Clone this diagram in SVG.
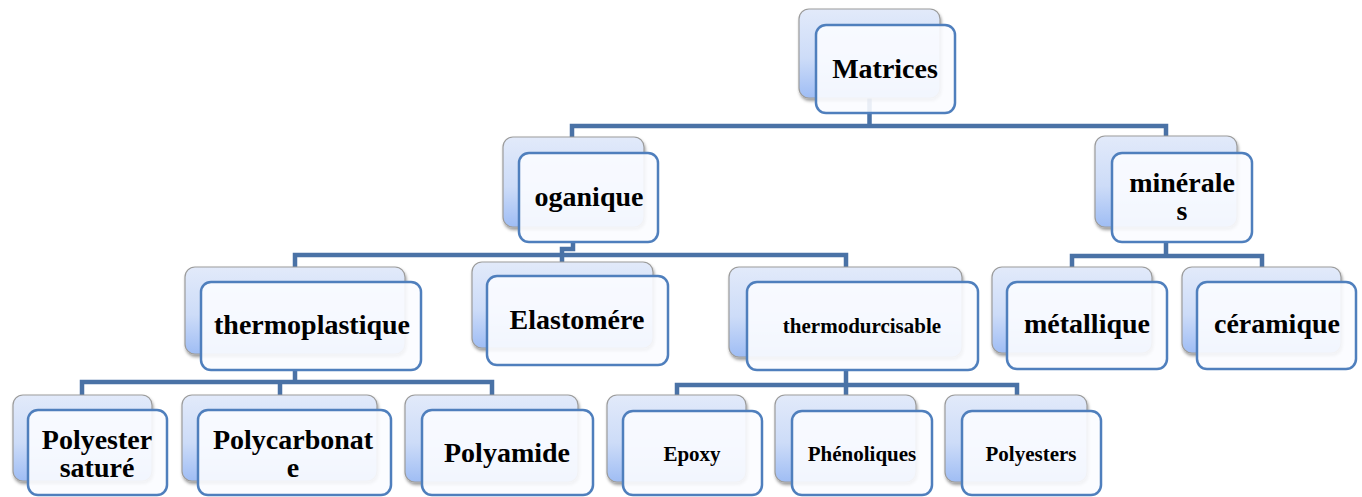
<svg xmlns="http://www.w3.org/2000/svg" width="1362" height="497" viewBox="0 0 1362 497">
<style>
.back{fill:url(#bg);stroke:#9c9c9c;stroke-width:1.2;filter:url(#sh)}
.front{fill:#fbfcff;fill-opacity:0.9;stroke:#4f7fbd;stroke-width:2.5}
.t{font-family:"Liberation Serif","Times New Roman",serif;font-weight:bold;fill:#000;text-anchor:middle}
.L{font-size:28px}
.S{font-size:21px}
.c{fill:none;stroke:#4a72a6;stroke-width:4.5;stroke-linejoin:miter}
</style>
<defs>
<linearGradient id="bg" x1="0" y1="0" x2="0" y2="1">
<stop offset="0" stop-color="#e2eafa"/>
<stop offset="0.55" stop-color="#cddcf8"/>
<stop offset="1" stop-color="#9fbdf4"/>
</linearGradient>
<filter id="sh" x="-10%" y="-10%" width="125%" height="130%">
<feDropShadow dx="1" dy="2.5" stdDeviation="1.8" flood-color="#000" flood-opacity="0.4"/>
</filter>
</defs>
<g id="connectors">
<path class="c" d="M869.5,98 V126 M572,137 V126 H1166 V136"/>
<path class="c" d="M573,242 V249 H562 V255 M295,267 V255 H846 V267 M562,255 V262"/>
<path class="c" d="M1166,242 V256 M1072,267 V256 H1262 V267"/>
<path class="c" d="M295,370 V382 M82,395 V382 H492 V395 M280,382 V395"/>
<path class="c" d="M846,370 V385 M677,395 V385 H1017 V395 M846,385 V395"/>
</g>
<g id="n-matrices">
<rect class="back" x="799" y="9" width="141" height="89" rx="10"/>
<rect class="front" x="816" y="25" width="139" height="88" rx="10"/>
<text class="t L" x="885" y="78">Matrices</text>
</g>
<g id="n-organique">
<rect class="back" x="503" y="137" width="141" height="90" rx="10"/>
<rect class="front" x="519" y="153" width="139" height="89" rx="10"/>
<text class="t L" x="589" y="206">oganique</text>
</g>
<g id="n-minerales">
<rect class="back" x="1095" y="136" width="142" height="91" rx="10"/>
<rect class="front" x="1112" y="153" width="140" height="89" rx="10"/>
<text class="t L" x="1182" y="192">minérale</text>
<text class="t L" x="1182" y="220">s</text>
</g>
<g id="n-thermoplastique">
<rect class="back" x="185" y="267" width="220" height="87" rx="10"/>
<rect class="front" x="201" y="282" width="220" height="88" rx="10"/>
<text class="t L" x="312" y="334">thermoplastique</text>
</g>
<g id="n-elastomere">
<rect class="back" x="472" y="262" width="181" height="86" rx="10"/>
<rect class="front" x="487" y="276" width="181" height="89" rx="10"/>
<text class="t L" x="577" y="329">Elastomére</text>
</g>
<g id="n-thermodurcisable">
<rect class="back" x="729" y="267" width="233" height="90" rx="10"/>
<rect class="front" x="747" y="282" width="231" height="88" rx="10"/>
<text class="t S" x="862" y="333">thermodurcisable</text>
</g>
<g id="n-metallique">
<rect class="back" x="992" y="267" width="160" height="86" rx="10"/>
<rect class="front" x="1007" y="282" width="160" height="87" rx="10"/>
<text class="t L" x="1087" y="333">métallique</text>
</g>
<g id="n-ceramique">
<rect class="back" x="1182" y="267" width="159" height="86" rx="10"/>
<rect class="front" x="1197" y="282" width="159" height="87" rx="10"/>
<text class="t L" x="1277" y="333">céramique</text>
</g>
<g id="n-polyester-sature">
<rect class="back" x="13" y="395" width="139" height="86" rx="10"/>
<rect class="front" x="28" y="410" width="139" height="85" rx="10"/>
<text class="t L" x="97" y="449">Polyester</text>
<text class="t L" x="97" y="477">saturé</text>
</g>
<g id="n-polycarbonate">
<rect class="back" x="182" y="395" width="195" height="86" rx="10"/>
<rect class="front" x="198" y="410" width="193" height="85" rx="10"/>
<text class="t L" x="293" y="449">Polycarbonat</text>
<text class="t L" x="293" y="477">e</text>
</g>
<g id="n-polyamide">
<rect class="back" x="405" y="395" width="173" height="87" rx="10"/>
<rect class="front" x="422" y="410" width="171" height="85" rx="10"/>
<text class="t L" x="507" y="462">Polyamide</text>
</g>
<g id="n-epoxy">
<rect class="back" x="607" y="395" width="139" height="87" rx="10"/>
<rect class="front" x="623" y="411" width="139" height="84" rx="10"/>
<text class="t S" x="692" y="461">Epoxy</text>
</g>
<g id="n-phenoliques">
<rect class="back" x="775" y="395" width="141" height="87" rx="10"/>
<rect class="front" x="792" y="411" width="140" height="84" rx="10"/>
<text class="t S" x="862" y="461">Phénoliques</text>
</g>
<g id="n-polyesters">
<rect class="back" x="945" y="395" width="142" height="87" rx="10"/>
<rect class="front" x="962" y="411" width="139" height="84" rx="10"/>
<text class="t S" x="1031" y="461">Polyesters</text>
</g>
</svg>
